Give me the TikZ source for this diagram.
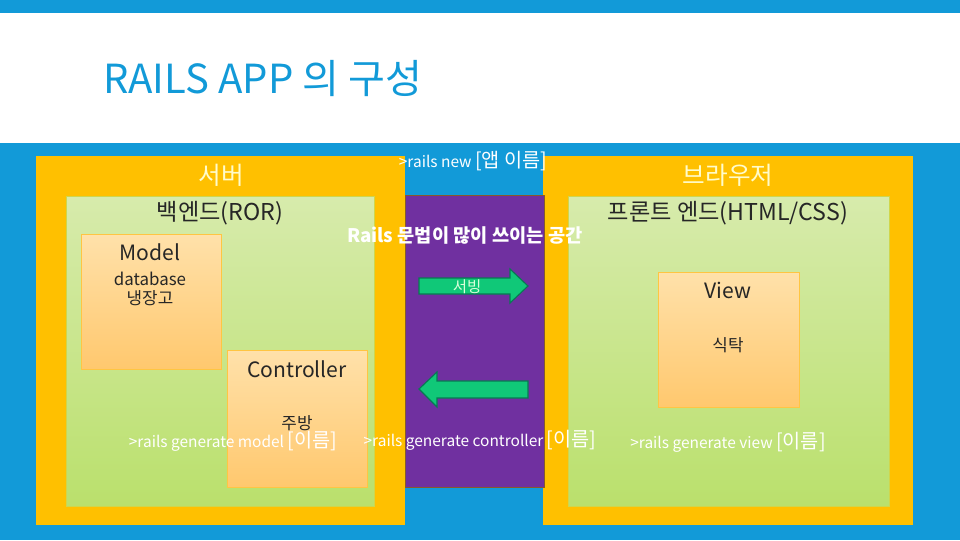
\documentclass[tikz,border=0pt]{standalone}
\usepackage{fontspec}
\setmainfont{Noto Sans CJK KR}
\usetikzlibrary{positioning}

\definecolor{slideblue}{RGB}{18,154,216}
\definecolor{boxyellow}{RGB}{255,192,0}
\definecolor{greentop}{RGB}{215,235,172}
\definecolor{greenbot}{RGB}{186,224,108}
\definecolor{orangetop}{RGB}{255,225,170}
\definecolor{orangebot}{RGB}{255,200,110}
\definecolor{railspurple}{RGB}{112,48,160}
\definecolor{arrowgreen}{RGB}{16,200,120}
\definecolor{darktext}{RGB}{38,38,38}

\newcommand{\fs}[1]{\fontsize{#1}{#1}\selectfont}

\tikzset{
  greenbox/.style={draw=greenbot!70!boxyellow, shading=axis, top color=greentop, bottom color=greenbot},
  orangebox/.style={draw=orangebot!60!boxyellow, shading=axis, top color=orangetop, bottom color=orangebot},
  arrowshape/.style={fill=arrowgreen, draw=arrowgreen!60!black!80!teal, line width=0.8pt},
  txt/.style={inner sep=0pt, text=darktext},
  cmd/.style={inner sep=0pt, text=white, font=\fs{11}},
}

\begin{document}
\begin{tikzpicture}[x=0.025cm, y=-0.025cm]
\useasboundingbox (0, 0) rectangle (960, 540);
% slide background
\fill[slideblue] (0, 0) rectangle (960, 540);
\fill[white] (0, 13) rectangle (960, 143);
\node (title)[anchor=base west, inner sep=0pt, text=slideblue, font=\fs{28.5}] at (103, 93) {RAILS APP 의 구성};

% server / browser
\fill[boxyellow] (36, 156) rectangle (405, 525);
\fill[boxyellow] (543, 156) rectangle (913, 525);
\path[greenbox] (66, 196) rectangle (374, 506);
\path[greenbox] (568, 196) rectangle (889, 506);
\filldraw[railspurple, draw=brown!70!black] (405, 195) rectangle (544, 487);

% model, controller, view
\path[orangebox] (81, 234) rectangle (221, 369);
\path[orangebox] (227, 350) rectangle (367, 487);
\path[orangebox] (658, 272) rectangle (799, 407);

% arrows
\draw[arrowshape] (419, 278) -- (510, 278) -- (510, 269) -- (528, 286) -- (510, 303) -- (510, 294) -- (419, 294) -- cycle;
\draw[arrowshape] (528, 381) -- (437, 381) -- (437, 372) -- (419, 389) -- (437, 407) -- (437, 398) -- (528, 398) -- cycle;

% texts
\node (server)[txt, text=yellow!20!white, font=\fs{17.5}] at (221, 175) {서버};
\node (backend)[txt, font=\fs{16.5}] at (220, 213) {백엔드(ROR)};
\node (model)[txt, font=\fs{15}] at (150, 252) {Model};
\node (database)[txt, font=\fs{12}, align=center] at (150, 289) {database\\[2pt]냉장고};
\node (controller)[txt, font=\fs{15}] at (297, 369) {Controller};
\node (kitchen)[txt, font=\fs{12}] at (297, 423) {주방};
\node (genmodel)[cmd] at (233, 441) {>rails generate model {\fs{14}[이름]}};

\node (railsnew)[cmd] at (473, 161) {>rails new {\fs{14}[앱 이름]}};
\node (syntax)[cmd, font=\fs{13.3}\bfseries] at (465, 236) {Rails 문법이 많이 쓰이는 공간};
\node (serving)[txt, text=green!15!white, font=\fs{11}] at (467, 287) {서빙};
\node (genctrl)[cmd] at (480, 440) {>rails generate controller {\fs{14}[이름]}};

\node (browser)[txt, text=yellow!20!white, font=\fs{17.5}] at (728, 175) {브라우저};
\node (frontend)[txt, font=\fs{16.5}] at (728, 213) {프론트 엔드(HTML/CSS)};
\node (view)[txt, font=\fs{15}] at (728, 290) {View};
\node (table)[txt, font=\fs{12}] at (728, 345) {식탁};
\node (genview)[cmd] at (728, 442) {>rails generate view {\fs{14}[이름]}};
\end{tikzpicture}
\end{document}
